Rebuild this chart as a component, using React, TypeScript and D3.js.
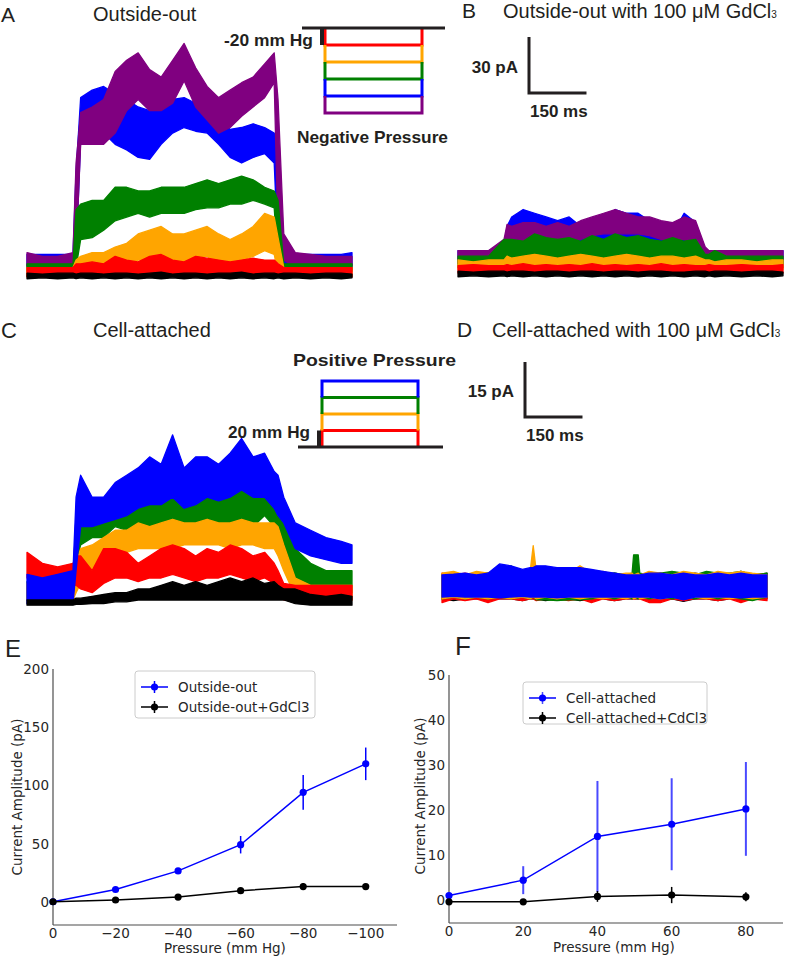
import React from 'react';
import * as d3 from 'd3';

type Band = [number, number][];

// ---- current traces: [low, high] envelope in pA at each sample time (ms) ----
const timesA = [0, 40, 80, 120, 128, 140, 170, 200, 230, 260, 290, 320, 350, 380, 410, 440, 470, 500, 530, 560, 590, 620, 645, 655, 670, 700, 740, 780, 820, 848];

const aPurple: Band = [[4, 12], [4, 10], [4, 10], [4, 12], [12, 60], [70, 87], [70, 90], [70, 94], [76, 109], [88, 115], [94, 119], [88, 110], [88, 106], [92, 115], [104, 124], [90, 111], [83, 101], [76, 95], [79, 99], [85, 103], [90, 106], [95, 113], [103, 119], [22, 94], [8, 22], [4, 12], [4, 11], [4, 10], [3, 10], [3, 10]];
const aBlue: Band = [[5, 11], [5, 11], [5, 11], [5, 11], [10, 55], [72, 95], [76, 99], [76, 101], [70, 97], [67, 94], [63, 90], [62, 88], [70, 88], [76, 94], [79, 95], [77, 92], [76, 90], [70, 85], [63, 78], [60, 79], [63, 81], [65, 79], [60, 76], [12, 70], [4, 10], [5, 11], [5, 11], [5, 11], [5, 11], [5, 12]];
const aGreen: Band = [[2, 6], [2, 6], [2, 6], [2, 6], [4, 35], [19, 38], [20, 40], [24, 40], [29, 47], [31, 47], [33, 45], [31, 45], [33, 47], [33, 47], [33, 47], [35, 49], [36, 51], [36, 49], [38, 51], [38, 53], [40, 51], [38, 47], [36, 45], [5, 40], [2, 6], [2, 6], [2, 6], [2, 6], [2, 6], [2, 6]];
const aOrange: Band = [[-1, 4], [-1, 4], [-1, 4], [-1, 4], [1, 8], [3, 10], [3, 12], [4, 12], [6, 15], [6, 17], [8, 22], [8, 24], [10, 26], [6, 22], [6, 22], [10, 24], [10, 26], [6, 22], [6, 19], [8, 22], [10, 26], [13, 33], [11, 31], [1, 20], [-1, 4], [-1, 4], [-1, 4], [-1, 4], [-1, 4], [-1, 4]];
const aRed: Band = [[-1, 4], [-1, 4], [-1, 4], [-1, 4], [0, 6], [0, 6], [0, 7], [0, 6], [1, 10], [0, 8], [0, 7], [1, 10], [0, 11], [0, 8], [0, 7], [1, 10], [0, 9], [0, 8], [0, 7], [0, 8], [1, 9], [0, 8], [0, 8], [0, 6], [-1, 4], [-1, 4], [-1, 4], [-1, 4], [-1, 4], [-1, 4]];
const aBlack: Band = [[-2, 1], [-1.5, 0.5], [-2, 1], [-1.5, 1], [-2, 0.5], [-1.5, 1], [-2, 1], [-1.5, 0.5], [-2, 1], [-1.5, 1], [-2, 0.5], [-1.5, 1], [-2, 1.5], [-1.5, 0.5], [-2, 1], [-1.5, 1], [-2, 0.5], [-1.5, 1], [-2, 1], [-1.5, 1.5], [-2, 0.5], [-1.5, 1], [-2, 1], [-1.5, 0.5], [-2, 1], [-1.5, 1], [-2, 0.5], [-1.5, 1], [-2, 1], [-1.5, 0.5]];

const bPurple: Band = [[5, 12], [5, 12], [5, 12], [7, 18], [14, 26], [14, 25], [16, 27], [16, 27], [16, 25], [18, 27], [16, 25], [18, 28], [20, 30], [21, 32], [21, 34], [21, 32], [21, 30], [20, 30], [18, 28], [18, 27], [18, 30], [14, 28], [5, 14], [5, 12], [5, 12], [5, 12], [5, 12], [5, 12], [5, 12], [5, 12]];
const bBlue: Band = [[5, 12], [5, 12], [5, 12], [5, 14], [10, 25], [9, 30], [10, 34], [14, 32], [14, 30], [14, 28], [16, 30], [14, 25], [16, 27], [18, 28], [18, 34], [18, 32], [16, 32], [14, 28], [14, 25], [10, 21], [14, 32], [14, 27], [5, 12], [5, 12], [5, 12], [5, 12], [5, 12], [5, 12], [5, 12], [5, 12]];
const bGreen: Band = [[3, 9], [3, 9], [3, 9], [5, 18], [6, 18], [6, 18], [5, 17], [6, 21], [5, 19], [6, 18], [6, 19], [5, 17], [6, 20], [5, 18], [6, 21], [5, 19], [6, 20], [5, 18], [6, 17], [5, 19], [5, 17], [5, 18], [3, 10], [3, 10], [3, 12], [3, 9], [3, 9], [3, 9], [3, 9], [3, 9]];
const bOrange: Band = [[2, 7], [2, 6], [2, 7], [2, 7], [3, 9], [3, 8], [3, 9], [3, 10], [3, 9], [3, 8], [3, 9], [3, 10], [3, 9], [3, 8], [3, 9], [3, 10], [3, 9], [3, 8], [3, 9], [3, 9], [3, 8], [3, 9], [2, 7], [2, 7], [2, 6], [2, 7], [2, 7], [2, 6], [2, 7], [2, 7]];
const bRed: Band = [[0, 4], [0, 4.5], [0, 4], [0, 4], [0, 4.5], [0, 4], [0, 5], [0, 4], [0, 4.5], [0, 4], [0, 4.5], [0, 4], [0, 5], [0, 4], [0, 4.5], [0, 4], [0, 4.5], [0, 4], [0, 5], [0, 4], [0, 4.5], [0, 4], [0, 4], [0, 4.5], [0, 4], [0, 4], [0, 4.5], [0, 4], [0, 4], [0, 4.5]];
const bBlack: Band = [[-2, 1], [-1.5, 0.5], [-2, 1], [-1.5, 1], [-2, 0.5], [-1.5, 1], [-2, 1], [-1.5, 0.5], [-2, 1], [-1.5, 1], [-2, 0.5], [-1.5, 1], [-2, 1], [-1.5, 0.5], [-2, 1], [-1.5, 1], [-2, 0.5], [-1.5, 1], [-2, 1], [-1.5, 0.5], [-2, 0.5], [-1.5, 1], [-2, 1], [-1.5, 0.5], [-2, 1], [-1.5, 1], [-2, 0.5], [-1.5, 1], [-2, 1], [-1.5, 0.5]];

const cBlue: Band = [[-1, 7], [-1, 6], [-1, 7], [-1, 8], [8, 28], [20, 34], [20, 28], [21, 28], [22, 32], [23, 34], [25, 36], [26, 39], [26, 37], [28, 45], [25, 36], [26, 39], [28, 39], [27, 37], [28, 40], [30, 44], [28, 39], [28, 40], [25, 35], [23, 34], [21, 28], [14, 21], [12, 19], [11, 17], [10, 16], [10, 15]];
const cGreen: Band = [[0, 5], [0, 5], [0, 5], [0, 5], [10, 23], [15, 25], [17, 25], [17, 26], [20, 29], [19, 27], [17, 26], [18, 26], [19, 27], [20, 29], [19, 27], [19, 27], [21, 29], [20, 28], [21, 29], [21, 31], [20, 28], [23, 32], [20, 28], [18, 26], [12, 21], [6, 14], [4, 10], [3, 8], [2, 8], [2, 8]];
const cOrange: Band = [[0, 4.5], [0, 4.5], [0, 4.5], [0, 4.5], [2, 10], [4.5, 14], [7, 15], [9, 17], [12, 19], [13, 19], [14, 21], [14, 20], [14, 21], [14, 22], [15, 21], [15, 21], [15, 22], [15, 21], [14, 21], [15, 22], [15, 21], [14, 21], [14, 21], [12, 20], [8, 15], [1, 6], [0, 4], [0, 4], [0, 4], [0, 4]];
const cRed: Band = [[6, 13], [4.5, 10], [4.5, 9], [4, 10], [4, 12], [3, 12], [2, 8], [4.5, 14], [6, 14], [6, 13], [5, 10], [6, 12], [6, 14], [7, 15], [6, 14], [5, 12], [6, 14], [6, 13], [7, 15], [6, 14], [5, 12], [6, 13], [4.5, 10], [3, 8], [0, 4.5], [0, 4], [0, 4], [0, 4], [0, 4], [0, 4]];
const cBlack: Band = [[-1.4, 0], [-1.4, 0], [-1.4, 0], [-1.4, 0], [-1.2, 0.5], [-1.2, 0.5], [-1, 1], [-1, 1.5], [-0.5, 2], [-0.5, 2], [0, 3], [0, 3], [0, 4], [0, 5], [0, 4], [0, 5], [0, 4], [0, 5], [0, 6], [0, 5], [0, 6], [0, 4.5], [0, 5], [0, 4], [0, 3], [-1, 3], [-1.4, 1.5], [-1.4, 1], [-1.4, 1.5], [-1.4, 1]];

const timesD = [0, 30, 60, 90, 120, 150, 180, 210, 230, 238, 246, 270, 300, 330, 360, 390, 420, 450, 480, 496, 500, 512, 516, 540, 570, 600, 630, 660, 690, 720, 750, 780, 810, 848];

const dBlue: Band = [[-3, 3], [-2.8, 3.2], [-3, 3.5], [-3, 3], [-3, 3.5], [-3.2, 6], [-3, 5.5], [-2.8, 4.5], [-3, 5], [-3, 5], [-3, 5.5], [-3, 5.5], [-3.2, 5], [-3, 5], [-3, 5], [-3, 4.5], [-3, 4], [-3, 3.5], [-3, 3], [-3, 3], [-3, 3], [-3, 3], [-3, 3], [-3, 3.5], [-3.5, 3.5], [-3, 3], [-3.8, 3.5], [-3, 3], [-3, 3], [-3, 3.5], [-3, 3], [-3.2, 3.5], [-3, 3], [-3, 3]];
const dOrange: Band = [[-3.5, 3.5], [-3, 4], [-3.5, 3], [-3, 4], [-3.5, 3.5], [-3, 3], [-3.5, 4], [-3, 3.5], [-3.5, 4], [-3, 11], [-3.5, 4], [-3, 3.5], [-3.5, 4], [-3, 3.5], [-3.5, 5.5], [-3, 3.5], [-3.5, 4], [-3, 3], [-3.5, 3.5], [-3, 3.5], [-3.5, 3], [-3, 3.5], [-3.5, 3], [-3, 4], [-3.5, 3.5], [-3, 3], [-3.5, 4], [-3, 3.5], [-3.5, 3], [-3, 4], [-3.5, 3.5], [-3, 4], [-3.5, 3.5], [-3, 3]];
const dGreen: Band = [[-3.5, 3], [-3, 3.5], [-3.5, 3], [-3, 3.5], [-3.5, 3.5], [-3, 3], [-3.5, 5.5], [-3, 3.5], [-3.5, 3], [-3, 3.5], [-3.8, 3], [-3.8, 3.5], [-4, 3], [-3.8, 3.5], [-3.8, 4], [-3.5, 3.5], [-3, 3], [-3.5, 3.5], [-3, 3], [-3.5, 3.5], [-3, 8.5], [-3.5, 8.5], [-3, 3.5], [-3.5, 3], [-3, 3.5], [-3.5, 4], [-3, 3.5], [-3.5, 3], [-3, 4], [-3.5, 3.5], [-3, 3.5], [-3.5, 4], [-4, 3], [-3, 3.5]];
const dRed: Band = [[-4.5, 3.5], [-3.5, 3], [-4, 3.5], [-3.5, 3], [-4.5, 3], [-3.5, 3.5], [-3.5, 3], [-4, 3.5], [-3.5, 3], [-3.5, 3], [-4, 3.5], [-3.5, 3], [-3.5, 3], [-4, 3], [-3.5, 3], [-4.5, 3.5], [-3.5, 3], [-4, 3], [-3.5, 3], [-3.5, 3], [-3.5, 3], [-3.5, 3], [-3.5, 3], [-4.5, 3.5], [-4.5, 3], [-3.5, 3], [-4, 3.5], [-3.5, 3], [-3.5, 3.5], [-4, 3], [-3.5, 3], [-4.5, 3.5], [-3.5, 3], [-4, 3]];
const dBlack: Band = [[-3.5, 3], [-4, 3.5], [-3.5, 3], [-3.5, 3], [-4, 3.5], [-3.5, 3], [-3.5, 3], [-4, 3], [-3.5, 3], [-3.5, 3], [-3.5, 3], [-4, 3.5], [-3.5, 3], [-3.5, 3], [-4, 3], [-3.5, 3], [-3.5, 3], [-4, 3.5], [-3.5, 3], [-3.5, 3], [-3.5, 3], [-3.5, 3], [-3.5, 3], [-3.5, 3], [-4, 3.5], [-3.5, 3], [-4.2, 3], [-3.5, 3.5], [-3.5, 3], [-4, 3.5], [-3.5, 3], [-3.5, 4], [-3.5, 3], [-3.5, 3.5]];

// ---- pressure protocols (mm Hg) ----
const negLevels = [-20, -40, -60, -80, -100];
const posLevels = [20, 40, 60, 80];

// ---- summary plots ----
const eX = [0, -20, -40, -60, -80, -100];
const eBlue = [0, 10.5, 26.5, 49, 94, 118.5];
const eBlueErr = [0.5, 1.5, 1.5, 7.5, 15, 14];
const eBlack = [0, 1.5, 4, 9.5, 13, 13];
const eBlackErr = [0.5, 0.8, 1, 1.5, 3, 2];
const eXTicks = [0, -20, -40, -60, -80, -100];
const eYTicks = [0, 50, 100, 150, 200];

const fX = [0, 20, 40, 60, 80];
const fBlue = [1.1, 4.5, 14.2, 16.9, 20.3];
const fBlueErr = [0.5, 3.1, 12.3, 10.2, 10.4];
const fBlack = [-0.3, -0.3, 0.9, 1.2, 0.8];
const fBlackErr = [0.4, 0.4, 1.2, 1.8, 1];
const fXTicks = [0, 20, 40, 60, 80];
const fYTicks = [0, 10, 20, 30, 40, 50];

const COL = { purple: '#800080', blue: '#0000ff', green: '#008000', orange: '#ffa500', red: '#ff0000', black: '#000000' };
const SANS = '"Liberation Sans", Arial, sans-serif';
const MPL = '"DejaVu Sans", sans-serif';
const INK = '#231f20';

const T_MAX = 848;

function traceScales(x0: number, x1: number, zeroY: number, pxPerPA: number) {
  const x = d3.scaleLinear().domain([0, T_MAX]).range([x0, x1]);
  const y = d3.scaleLinear().domain([0, 10]).range([zeroY, zeroY - 10 * pxPerPA]);
  return { x, y };
}

const scA = traceScales(27, 352, 275, 1.867);
const scB = traceScales(458, 783, 273, 1.867);
const scC = traceScales(27, 352, 600, 3.67);
const scD = traceScales(442, 767, 586, 3.67);

function Traces({ times, series, sc }: { times: number[]; series: [Band, string][]; sc: ReturnType<typeof traceScales> }) {
  const area = d3.area<[number, number]>()
    .x((_, i) => sc.x(times[i]))
    .y0(d => sc.y(d[0]))
    .y1(d => sc.y(d[1]));
  return (
    <g>
      {series.map(([data, color], k) => (
        <path key={k} d={area(data) ?? ''} fill={color} stroke={color} strokeWidth={1.3} strokeLinejoin="round" />
      ))}
    </g>
  );
}

function ScaleBar({ sc, cx, cy, pA, ms, pLabel, mLabel }: { sc: ReturnType<typeof traceScales>; cx: number; cy: number; pA: number; ms: number; pLabel: string; mLabel: string }) {
  const h = sc.y(0) - sc.y(pA);
  const w = sc.x(ms) - sc.x(0);
  return (
    <g>
      <path d={`M${cx},${cy - h}V${cy}H${cx + w}`} fill="none" stroke={INK} strokeWidth={3} />
      <text x={cx - 11} y={cy - h / 2 + 8} textAnchor="end" fontFamily={SANS} fontWeight="bold" fontSize={17} fill={INK}>{pLabel}</text>
      <text x={cx + 1} y={cy + 24} fontFamily={SANS} fontWeight="bold" fontSize={17} fill={INK}>{mLabel}</text>
    </g>
  );
}

function Protocol({ levels, colors, yRange, xL, xR, base0, base1, tickX }: { levels: number[]; colors: string[]; yRange: [number, number]; xL: number; xR: number; base0: number; base1: number; tickX: number }) {
  const p = d3.scaleLinear().domain([0, levels[levels.length - 1]]).range(yRange);
  return (
    <g>
      {levels.map((lv, i) => {
        const prev = i === 0 ? 0 : levels[i - 1];
        return <path key={i} d={`M${xL},${p(prev)}V${p(lv)}H${xR}V${p(prev)}`} fill="none" stroke={colors[i]} strokeWidth={3} />;
      })}
      <line x1={base0} x2={base1} y1={p(0)} y2={p(0)} stroke={INK} strokeWidth={3} />
      <rect x={tickX} y={Math.min(p(0), p(levels[0]))} width={4} height={Math.abs(p(levels[0]) - p(0))} fill={INK} />
    </g>
  );
}

function Summary({ xDom, xRange, yDom, yRange, xTicks, yTicks, xs, blue, blueErr, black, blackErr, blueErrColor, blueErrW, legend, legendBox, fmtX }: any) {
  const x = d3.scaleLinear().domain(xDom).range(xRange);
  const y = d3.scaleLinear().domain(yDom).range(yRange);
  const line = d3.line<number>().x((_, i) => x(xs[i])).y(d => y(d));
  const [lx, ly, lw, lh] = legendBox;
  const series = [
    { v: blue, e: blueErr, c: COL.blue, ec: blueErrColor, ew: blueErrW },
    { v: black, e: blackErr, c: COL.black, ec: COL.black, ew: 1.5 },
  ];
  return (
    <g fontFamily={MPL} fill="#262626">
      <line x1={xRange[0]} x2={xRange[1]} y1={yRange[0]} y2={yRange[0]} stroke="#4d4d4d" strokeWidth={1.2} />
      <line x1={xRange[0]} x2={xRange[0]} y1={yRange[0]} y2={yRange[1]} stroke="#4d4d4d" strokeWidth={1.2} />
      {xTicks.map((t: number) => (
        <text key={t} x={x(t)} y={yRange[0] + 13} textAnchor="middle" fontSize={13.5}>{fmtX(t)}</text>
      ))}
      {yTicks.map((t: number) => (
        <text key={t} x={xRange[0] - 4} y={y(t) + 5} textAnchor="end" fontSize={13.5}>{t}</text>
      ))}
      {series.map((s, k) => (
        <g key={k}>
          <path d={line(s.v) ?? ''} fill="none" stroke={s.c} strokeWidth={1.5} />
          {s.v.map((v: number, i: number) => (
            <line key={'e' + i} x1={x(xs[i])} x2={x(xs[i])} y1={y(v - s.e[i])} y2={y(v + s.e[i])} stroke={s.ec} strokeWidth={s.ew} />
          ))}
          {s.v.map((v: number, i: number) => (
            <circle key={'c' + i} cx={x(xs[i])} cy={y(v)} r={3.6} fill={s.c} />
          ))}
        </g>
      ))}
      <rect x={lx} y={ly} width={lw} height={lh} rx={3} fill="#fff" stroke="#cccccc" strokeWidth={1} />
      {legend.map((name: string, k: number) => {
        const cy = ly + 16 + k * 20;
        const c = k === 0 ? COL.blue : COL.black;
        return (
          <g key={name}>
            <line x1={lx + 6} x2={lx + 33} y1={cy} y2={cy} stroke={c} strokeWidth={1.5} />
            <line x1={lx + 19.5} x2={lx + 19.5} y1={cy - 6} y2={cy + 6} stroke={k === 0 ? blueErrColor : COL.black} strokeWidth={1.5} />
            <circle cx={lx + 19.5} cy={cy} r={3.6} fill={c} />
            <text x={lx + 43} y={cy + 5} fontSize={13.5}>{name}</text>
          </g>
        );
      })}
    </g>
  );
}

export default function App() {
  const fmtMinus = (t: number) => (t < 0 ? '\u2212' + Math.abs(t) : String(t));
  return (
    <svg width={787} height={956} style={{ position: 'absolute', left: 0, top: 0, background: '#fff' }}>
      <rect width={787} height={956} fill="#fff" />

      {/* panel titles */}
      <g fontFamily={SANS} fill={INK}>
        <text x={1} y={22} fontSize={21}>A</text>
        <text x={93} y={21} fontSize={20}>Outside-out</text>
        <text x={462} y={18} fontSize={21}>B</text>
        <text x={503} y={18} fontSize={20}>Outside-out with 100 μM GdCl<tspan fontSize={10}>3</tspan></text>
        <text x={1} y={338} fontSize={22}>C</text>
        <text x={93} y={337} fontSize={20}>Cell-attached</text>
        <text x={457} y={337} fontSize={21}>D</text>
        <text x={492} y={337} fontSize={20}>Cell-attached with 100 μM GdCl<tspan fontSize={10}>3</tspan></text>
        <text x={5} y={657} fontSize={24}>E</text>
        <text x={455} y={655} fontSize={26}>F</text>
      </g>

      {/* traces */}
      <Traces times={timesA} sc={scA} series={[[aBlue, COL.blue], [aPurple, COL.purple], [aGreen, COL.green], [aOrange, COL.orange], [aRed, COL.red], [aBlack, COL.black]]} />
      <Traces times={timesA} sc={scB} series={[[bBlue, COL.blue], [bPurple, COL.purple], [bGreen, COL.green], [bOrange, COL.orange], [bRed, COL.red], [bBlack, COL.black]]} />
      <Traces times={timesA} sc={scC} series={[[cGreen, COL.green], [cOrange, COL.orange], [cRed, COL.red], [cBlue, COL.blue], [cBlack, COL.black]]} />
      <Traces times={timesD} sc={scD} series={[[dBlack, COL.black], [dRed, COL.red], [dGreen, COL.green], [dOrange, COL.orange], [dBlue, COL.blue]]} />

      {/* pressure protocols */}
      <Protocol levels={negLevels} colors={[COL.red, COL.orange, COL.green, COL.blue, COL.purple]} yRange={[28, 113]} xL={325} xR={422} base0={302} base1={445} tickX={320} />
      <g fontFamily={SANS} fontWeight="bold" fontSize={17} fill={INK}>
        <text x={313} y={46} textAnchor="end" textLength={89} lengthAdjust="spacingAndGlyphs">-20 mm Hg</text>
        <text x={297} y={143} textLength={151} lengthAdjust="spacingAndGlyphs">Negative Pressure</text>
      </g>
      <Protocol levels={posLevels} colors={[COL.red, COL.orange, COL.green, COL.blue]} yRange={[447, 381]} xL={322} xR={418} base0={298} base1={443} tickX={317} />
      <g fontFamily={SANS} fontWeight="bold" fontSize={17} fill={INK}>
        <text x={310} y={438} textAnchor="end" textLength={82} lengthAdjust="spacingAndGlyphs">20 mm Hg</text>
        <text x={293} y={366} textLength={163} lengthAdjust="spacingAndGlyphs">Positive Pressure</text>
      </g>

      {/* scale bars */}
      <ScaleBar sc={scB} cx={529} cy={93} pA={30} ms={150} pLabel="30 pA" mLabel="150 ms" />
      <ScaleBar sc={scD} cx={525} cy={417} pA={15} ms={150} pLabel="15 pA" mLabel="150 ms" />

      {/* E */}
      <Summary xDom={[0, -110]} xRange={[53, 397]} yDom={[-20, 200]} yRange={[925, 669]} xTicks={eXTicks} yTicks={eYTicks}
        xs={eX} blue={eBlue} blueErr={eBlueErr} black={eBlack} blackErr={eBlackErr} blueErrColor={COL.blue} blueErrW={1.5}
        legend={['Outside-out', 'Outside-out+GdCl3']} legendBox={[135, 671, 180, 47]} fmtX={fmtMinus} />
      <text x={225} y={953} textAnchor="middle" fontFamily={MPL} fontSize={13.5} fill="#262626">Pressure (mm Hg)</text>
      <text transform="translate(22,797) rotate(-90)" textAnchor="middle" fontFamily={MPL} fontSize={13.5} fill="#262626">Current Amplitude (pA)</text>

      {/* F */}
      <Summary xDom={[0, 90]} xRange={[449, 783]} yDom={[-5, 50]} yRange={[923, 675]} xTicks={fXTicks} yTicks={fYTicks}
        xs={fX} blue={fBlue} blueErr={fBlueErr} black={fBlack} blackErr={fBlackErr} blueErrColor="#4a4aff" blueErrW={2}
        legend={['Cell-attached', 'Cell-attached+CdCl3']} legendBox={[523, 682, 184, 42]} fmtX={(t: number) => String(t)} />
      <text x={614} y={952} textAnchor="middle" fontFamily={MPL} fontSize={13.5} fill="#262626">Pressure (mm Hg)</text>
      <text transform="translate(425,796) rotate(-90)" textAnchor="middle" fontFamily={MPL} fontSize={13.5} fill="#262626">Current Amplitude (pA)</text>
    </svg>
  );
}
